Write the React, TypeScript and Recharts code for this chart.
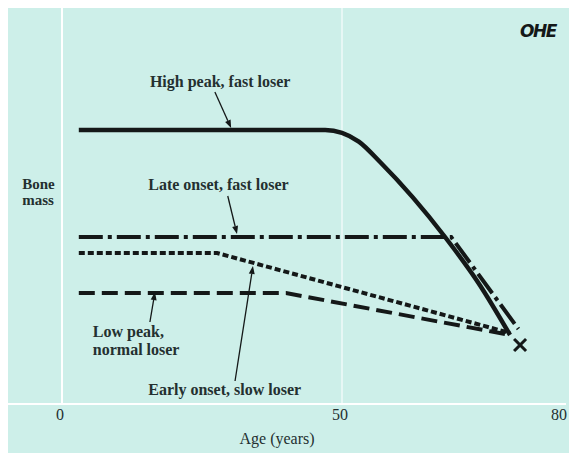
import {
  ComposedChart,
  Line,
  Scatter,
  XAxis,
  YAxis,
  ReferenceLine,
  ReferenceDot,
} from 'recharts';

// bone mass (arbitrary units) against age in years
const highPeak = [
  { age: 3, mass: 68.5 },
  { age: 47, mass: 68.5 },
  { age: 50, mass: 67.8 },
  { age: 53, mass: 65.6 },
  { age: 56.8, mass: 60.5 },
  { age: 68.4, mass: 41.75 },
  { age: 74.6, mass: 29.75 },
  { age: 80, mass: 17.25 },
];
const lateOnset = [
  { age: 3, mass: 41.75 },
  { age: 69.5, mass: 41.75 },
  { age: 81.5, mass: 18.75 },
];
const earlyOnset = [
  { age: 3, mass: 37.75 },
  { age: 27.7, mass: 37.75 },
  { age: 80, mass: 17.75 },
];
const lowPeak = [
  { age: 3, mass: 27.75 },
  { age: 40, mass: 27.75 },
  { age: 80, mass: 17.25 },
];
const endMark = [{ age: 81.8, mass: 14.75 }];

const ageTicks = [0, 50, 80];

const labels = [
  { text: 'High peak, fast loser', age: 15.7, mass: 79.25, size: 16 },
  { text: 'Late onset, fast loser', age: 15.4, mass: 53.5, size: 16 },
  { text: 'Low peak,', age: 5.5, mass: 16.75, size: 16 },
  { text: 'normal loser', age: 5.5, mass: 12.25, size: 16 },
  { text: 'Early onset, slow loser', age: 15.4, mass: 2.25, size: 16 },
  { text: 'Bone', age: -7.1, mass: 53.75, size: 15 },
  { text: 'mass', age: -7.1, mass: 49.75, size: 15 },
];
const arrows = [
  { from: { age: 27.3, mass: 78 }, to: { age: 30.2, mass: 69 } },
  { from: { age: 29.6, mass: 52 }, to: { age: 31.25, mass: 42.5 } },
  { from: { age: 15.7, mass: 20.5 }, to: { age: 16.6, mass: 28 } },
  { from: { age: 30.9, mass: 5.75 }, to: { age: 34.1, mass: 34.5 } },
];

const INK = '#141818';
const TEXT = '#243030';
const BG = '#cdefe9';
const W = 561;
const H = 445;
const M = { top: 0, right: 3, left: 54, bottom: 0 };

function AgeTick(props: any) {
  const { x, y, payload, index } = props;
  const last = index === ageTicks.length - 1;
  return (
    <text
      x={last ? W - 2 : x - 2}
      y={y + 16}
      textAnchor={last ? 'end' : 'middle'}
      fontFamily="'Liberation Serif', serif"
      fontSize={16}
      fill={TEXT}
    >
      {payload.value}
    </text>
  );
}

function arrowShape(p: any) {
  const { x1, y1, x2, y2 } = p;
  const a = Math.atan2(y2 - y1, x2 - x1);
  const len = 8;
  const hw = 3;
  const bx = x2 - len * Math.cos(a);
  const by = y2 - len * Math.sin(a);
  const px = -Math.sin(a) * hw;
  const py = Math.cos(a) * hw;
  return (
    <g>
      <line x1={x1} y1={y1} x2={bx} y2={by} stroke={INK} strokeWidth={1.3} />
      <polygon points={`${x2},${y2} ${bx + px},${by + py} ${bx - px},${by - py}`} fill={INK} />
    </g>
  );
}

function crossShape(p: any) {
  const { cx, cy } = p;
  const s = 6;
  return (
    <g stroke={INK} strokeWidth={3}>
      <line x1={cx - s} y1={cy - s} x2={cx + s} y2={cy + s} />
      <line x1={cx - s} y1={cy + s} x2={cx + s} y2={cy - s} />
    </g>
  );
}

export default function App() {
  return (
    <div style={{ position: 'fixed', left: 8, top: 8, width: W, height: H, background: BG }}>
      <ComposedChart width={W} height={H} margin={M}>
        <XAxis
          type="number"
          dataKey="age"
          domain={[0, 90]}
          ticks={ageTicks}
          height={49}
          axisLine={false}
          tickLine={false}
          tickSize={0}
          tickMargin={0}
          tick={<AgeTick />}
          allowDataOverflow
        />
        <YAxis type="number" dataKey="mass" domain={[0, 99]} hide allowDataOverflow />

        <ReferenceLine x={0} stroke="#ffffff" strokeWidth={2} ifOverflow="visible" />
        <ReferenceLine x={50} stroke="#ffffff" strokeWidth={1.5} strokeOpacity={0.7} />
        <ReferenceLine
          segment={[{ x: -9.7, y: 0 }, { x: 90, y: 0 }]}
          stroke="#ffffff"
          strokeWidth={2}
          ifOverflow="visible"
        />

        <Line data={lowPeak} dataKey="mass" type="linear" stroke={INK} strokeWidth={4}
          strokeDasharray="16 7" dot={false} isAnimationActive={false} />
        <Line data={earlyOnset} dataKey="mass" type="linear" stroke={INK} strokeWidth={4}
          strokeDasharray="6 3" dot={false} isAnimationActive={false} />
        <Line data={lateOnset} dataKey="mass" type="linear" stroke={INK} strokeWidth={4}
          strokeDasharray="24 5 4 5" dot={false} isAnimationActive={false} />
        <Line data={highPeak} dataKey="mass" type="monotone" stroke={INK} strokeWidth={4.5}
          dot={false} isAnimationActive={false} />
        <Scatter data={endMark} dataKey="mass" shape={crossShape} isAnimationActive={false} />

        {arrows.map((a, i) => (
          <ReferenceLine
            key={`arrow-${i}`}
            segment={[{ x: a.from.age, y: a.from.mass }, { x: a.to.age, y: a.to.mass }]}
            shape={arrowShape}
            ifOverflow="visible"
          />
        ))}

        {labels.map((l, i) => (
          <ReferenceDot
            key={`label-${i}`}
            x={l.age}
            y={l.mass}
            r={0}
            ifOverflow="visible"
            shape={(p: any) => (
              <text x={p.cx} y={p.cy} fontFamily="'Liberation Serif', serif" fontSize={l.size}
                fontWeight="bold" fill={TEXT}>
                {l.text}
              </text>
            )}
          />
        ))}

        <ReferenceDot
          x={38.4}
          y={-10}
          r={0}
          ifOverflow="visible"
          shape={(p: any) => (
            <text x={p.cx} y={p.cy} textAnchor="middle" fontFamily="'Liberation Serif', serif"
              fontSize={16} fill={TEXT}>
              Age (years)
            </text>
          )}
        />
        <ReferenceDot
          x={88.2}
          y={91.75}
          r={0}
          ifOverflow="visible"
          shape={(p: any) => (
            <text x={p.cx} y={p.cy} textAnchor="end" fontFamily="'DejaVu Sans', sans-serif"
              fontSize={17} fontWeight="bold" fontStyle="italic" letterSpacing={-1.5} fill={INK}>
              OHE
            </text>
          )}
        />
      </ComposedChart>
    </div>
  );
}
